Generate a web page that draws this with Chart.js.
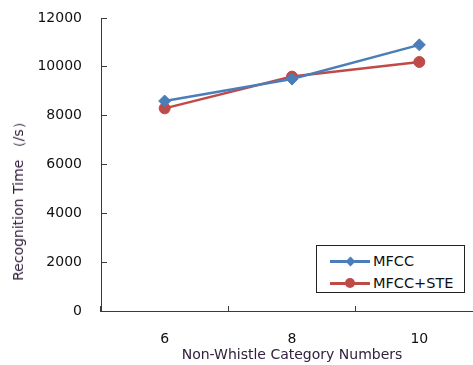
<!DOCTYPE html>
<html>
<head>
<meta charset="utf-8">
<script src="https://cdn.jsdelivr.net/npm/chart.js@4"></script>
<style>
  html, body { margin:0; padding:0; background:#fff; }
  #wrap { position:relative; width:473px; height:365px; overflow:hidden; }
  #c { display:block; }
  #yTitle {
    position:absolute; left:19px; top:198px;
    transform: translate(-50%, -50%) rotate(-90deg);
    white-space:nowrap; font:14px "DejaVu Sans", sans-serif; color:#33203d;
  }
  #legend {
    position:absolute; left:316px; top:245px; width:149px; height:48px;
    border:1px solid #222; background:#fff; box-sizing:border-box;
    font:14.5px "DejaVu Sans", sans-serif; color:#111;
  }
  .row { position:absolute; left:13px; height:20px; display:flex; align-items:center; }
  .sw { position:relative; width:40px; height:20px; margin-right:3px; }
  .sw .ln { position:absolute; left:0; right:0; top:9px; height:2.5px; }
  .sw .mk { position:absolute; left:50%; top:50%; }
</style>
</head>
<body>
<div id="wrap">
  <canvas id="c" width="490" height="365"></canvas>
  <div id="yTitle">Recognition Time （/s）</div>
  <div id="legend"></div>
</div>
<script>
// ====== DATA ======
const categories = ['6', '8', '10'];
const mfcc       = [8600, 9500, 10900];
const mfccSte    = [8300, 9600, 10200];
const seriesNames = ['MFCC', 'MFCC+STE'];

const BLUE = '#4a7ebb';
const RED  = '#be4b48';
const AXIS = '#3a3a3a';

const ctx = document.getElementById('c').getContext('2d');

const chart = new Chart(ctx, {
  type: 'line',
  data: {
    labels: categories,
    datasets: [
      {
        label: seriesNames[0], data: mfcc,
        borderColor: BLUE, backgroundColor: BLUE,
        borderWidth: 2.5, pointStyle: 'rectRot', pointRadius: 6,
        pointBorderWidth: 1, tension: 0
      },
      {
        label: seriesNames[1], data: mfccSte,
        borderColor: RED, backgroundColor: RED,
        borderWidth: 2.5, pointStyle: 'circle', pointRadius: 5.5,
        pointBorderWidth: 1, tension: 0
      }
    ]
  },
  options: {
    responsive: false,
    maintainAspectRatio: false,
    animation: false,
    layout: { padding: { top: 18, right: 6, bottom: 0, left: 0 } },
    plugins: {
      legend: { display: false },
      tooltip: { enabled: false }
    },
    scales: {
      x: {
        offset: true,
        grid: { offset: true, drawOnChartArea: false, tickLength: -5, color: AXIS, lineWidth: 1 },
        border: { color: AXIS, width: 1 },
        ticks: { color: '#111', padding: 25, font: { family: 'DejaVu Sans', size: 14 } },
        title: {
          display: true, text: 'Non-Whistle Category Numbers', color: '#33203d',
          padding: { top: 0, bottom: 1 },
          font: { family: 'DejaVu Sans', size: 14 }
        },
        afterFit: s => { s.height = 54; }
      },
      y: {
        min: 0, max: 12000,
        ticks: {
          stepSize: 2000, color: '#111', padding: 25,
          font: { family: 'DejaVu Sans', size: 14 },
          callback: v => String(v)
        },
        grid: { drawOnChartArea: false, tickLength: -6, color: AXIS, lineWidth: 1 },
        border: { color: AXIS, width: 1 },
        // inward ticks need a big label padding; keep it from pushing the plot down
        afterFit: s => { s.width = 101; s.paddingTop = 0; s.paddingBottom = 0; }
      }
    }
  }
});

// legend box inside the plot (built from the datasets)
const legend = document.getElementById('legend');
chart.data.datasets.forEach((ds, i) => {
  const row = document.createElement('div');
  row.className = 'row';
  row.style.top = (5 + i * 22) + 'px';
  const mk = ds.pointStyle === 'rectRot'
    ? `<div class="mk" style="width:7px;height:7px;margin:-3.5px 0 0 -3.5px;background:${ds.borderColor};transform:rotate(45deg)"></div>`
    : `<div class="mk" style="width:10px;height:10px;margin:-5px 0 0 -5px;border-radius:50%;background:${ds.borderColor}"></div>`;
  row.innerHTML = `<div class="sw"><div class="ln" style="background:${ds.borderColor}"></div>${mk}</div><span>${ds.label}</span>`;
  legend.appendChild(row);
});
</script>
</body>
</html>
